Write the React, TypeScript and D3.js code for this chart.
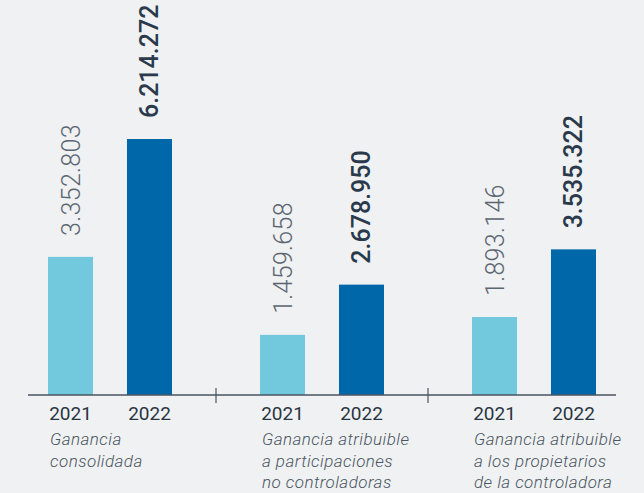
import React from "react";
import * as d3 from "d3";

const categories = ["consolidada", "no_controladoras", "controladora"];
const categoryLabels = [
  ["Ganancia", "consolidada"],
  ["Ganancia atribuible", "a participaciones", "no controladoras"],
  ["Ganancia atribuible", "a los propietarios", "de la controladora"],
];
const years = ["2021", "2022"];
const values2021 = [3352803, 1459658, 1893146];
const values2022 = [6214272, 2678950, 3535322];
const valueLabels2021 = ["3.352.803", "1.459.658", "1.893.146"];
const valueLabels2022 = ["6.214.272", "2.678.950", "3.535.322"];

const W = 644;
const H = 493;
const baseY = 395;

export default function App() {
  const x0 = d3.scaleBand<string>().domain(categories).range([4, 640]).padding(0);
  const x1 = d3.scaleBand<string>().domain(years).range([44, 168]).paddingInner(0.43).paddingOuter(0);
  const y = d3.scaleLinear().domain([0, 6214272]).range([baseY, 139]);
  const colors: Record<string, string> = { "2021": "#72c8dc", "2022": "#0068a8" };
  const font = "Roboto, 'Noto Sans', sans-serif";

  const data = categories.flatMap((c, i) => [
    { c, i, year: "2021", v: values2021[i], label: valueLabels2021[i] },
    { c, i, year: "2022", v: values2022[i], label: valueLabels2022[i] },
  ]);

  return (
    <svg width={W} height={H} style={{ position: "absolute", left: 0, top: 0, background: "#eff1f3" }}>
      <rect x={0} y={0} width={W} height={H} fill="#eff1f3" />
      {data.map((d, k) => {
        const bx = (x0(d.c) as number) + (x1(d.year) as number);
        const bw = x1.bandwidth();
        const cx = bx + bw / 2;
        const top = y(d.v);
        const is22 = d.year === "2022";
        return (
          <g key={k}>
            <rect x={bx} y={top} width={bw} height={baseY - top} fill={colors[d.year]} />
            <text
              transform={`translate(${cx},${top - 21}) rotate(-90)`}
              dy="0.36em"
              textAnchor="start"
              fontFamily={font}
              fontSize={25}
              fontWeight={is22 ? 500 : 300}
              letterSpacing={is22 ? 0 : 0.3}
              fill={is22 ? "#2a3a4c" : "#5c6672"}
            >
              {d.label}
            </text>
            <text
              x={cx}
              y={420}
              textAnchor="middle"
              fontFamily={font}
              fontSize={19}
              fontWeight={400}
              fill="#2a3542"
            >
              {d.year}
            </text>
          </g>
        );
      })}
      <line x1={28} x2={616} y1={baseY} y2={baseY} stroke="#4a5560" strokeWidth={1.5} />
      {categories.slice(1).map((c) => (
        <line key={c} x1={x0(c) as number} x2={x0(c) as number} y1={388} y2={403} stroke="#4a5560" strokeWidth={1.2} />
      ))}
      {categories.map((c, i) => (
        <text key={c} fontFamily={font} fontSize={17} letterSpacing={0.45} fontStyle="italic" fontWeight={300} fill="#4a5560">
          {categoryLabels[i].map((line, j) => (
            <tspan key={j} x={(x0(c) as number) + 46} y={445 + j * 21.5}>
              {line}
            </tspan>
          ))}
        </text>
      ))}
    </svg>
  );
}
